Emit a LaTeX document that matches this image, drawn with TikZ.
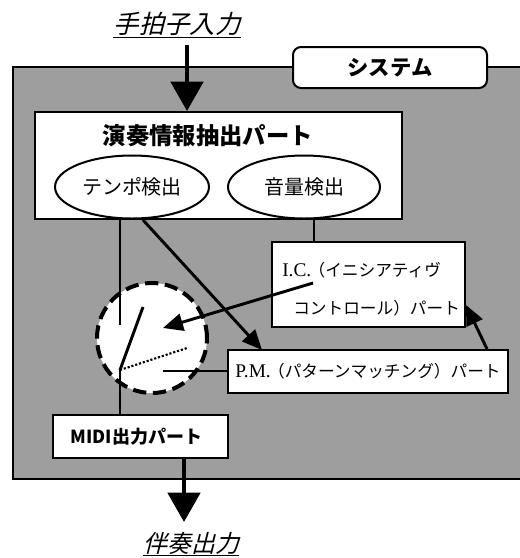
\documentclass[tikz,border=0pt]{standalone}
\usepackage{fontspec}
\setmainfont{Liberation Serif}
\newfontfamily\jp{Noto Sans CJK JP}
\newfontfamily\jpsl[FakeSlant=0.25]{Noto Sans CJK JP}
\usetikzlibrary{arrows.meta,shapes.geometric}
\begin{document}
\begin{tikzpicture}[x=0.75pt,y=-0.75pt,
  box/.style={draw,fill=white,line width=1.5pt,inner sep=0pt},
  oval/.style={draw,ellipse,fill=white,line width=1.5pt,inner sep=0pt},
  txt/.style={inner sep=0pt},
  conn/.style={line width=1.6pt},
  bigarrow/.style={line width=3.6pt,-{Triangle[width=24pt,length=22pt]}},
  midarrow/.style={line width=2.2pt,-{Triangle[width=13pt,length=15pt]}},
  uline/.style={line width=1.2pt}
]
\useasboundingbox (0,0) rectangle (519,558);
% system container
\node[draw,fill=black!38,line width=1.2pt,minimum width=387.75pt,minimum height=309pt,inner sep=0pt] (sys) at (271.5,273) {};
\node[box,rounded corners=6pt,minimum width=145.5pt,minimum height=30.75pt] (syslab) at (390,67.5) {\jp\bfseries\fontsize{16pt}{16pt}\selectfont システム};
% labels
\node[txt] (inlab) at (177,24) {\jpsl\fontsize{19pt}{19pt}\selectfont 手拍子入力};
\draw[uline] ([yshift=-1pt]inlab.south west) -- ([yshift=-1pt]inlab.south east);
\node[txt] (outlab) at (191,543) {\jpsl\fontsize{18pt}{18pt}\selectfont 伴奏出力};
\draw[uline] ([yshift=-1pt]outlab.south west) -- ([yshift=-1pt]outlab.south east);
% extraction part
\node[box,minimum width=275.25pt,minimum height=80.25pt] (ext) at (218.5,165.5) {};
\node[txt] (exttitle) at (208,136) {\jp\bfseries\fontsize{17.5pt}{17.5pt}\selectfont 演奏情報抽出パート};
\node[oval,minimum width=115.5pt,minimum height=47.25pt] (tempo) at (132,187) {\jp\fontsize{15pt}{15pt}\selectfont テンポ検出};
\node[oval,minimum width=114pt,minimum height=47.25pt] (vol) at (304,187) {\jp\fontsize{15pt}{15pt}\selectfont 音量検出};
% I.C. part
\node[box,minimum width=144.75pt,minimum height=63.75pt] (ic) at (368.5,284.5) {};
\node[txt,anchor=west] (ic1) at (282,270) {\fontsize{14.5pt}{14.5pt}\selectfont I.C.\kern-2pt\jp\fontsize{12.5pt}{12.5pt}\selectfont（イニシアティヴ};
\node[txt,anchor=west] (ic2) at (293,308) {\jp\fontsize{12.5pt}{12.5pt}\selectfont コントロール）パート};
% P.M. part
\node[box,minimum width=210pt,minimum height=32.25pt] (pm) at (368,371.5) {\fontsize{14.5pt}{14.5pt}\selectfont P.M.\kern-2pt\jp\fontsize{12.5pt}{12.5pt}\selectfont（パターンマッチング）パート};
% MIDI part
\node[box,minimum width=131.25pt,minimum height=32.25pt] (midi) at (140.5,436.5) {\jp\bfseries\fontsize{13.5pt}{13.5pt}\selectfont MIDI出力パート\kern6pt};
% switch
\node[circle,draw,fill=white,line width=3pt,dash pattern=on 10pt off 5pt,minimum size=82.5pt,inner sep=0pt] (sw) at (152,338) {};
\coordinate (a1) at (120,325);
\coordinate (piv) at (120,370);
\coordinate (blade) at (143,307);
\coordinate (dotend) at (187,348);
\coordinate (pmin) at (163,371);
\coordinate (vx) at (314,0);
\coordinate (dx) at (143,0);
\coordinate (dtip) at (262,350);
\coordinate (icstart) at (313,283);
\coordinate (ictipsw) at (163,328);
\coordinate (pmx) at (487,0);
\coordinate (ictip) at (466,305);
\coordinate (instart) at (187,45);
\coordinate (ox) at (184,0);
\coordinate (otip) at (184,522);
% connectors
\draw[conn] (ext.south -| a1) -- (a1);
\draw[conn] (piv) -- (midi.north -| piv);
\draw[line width=2.2pt] (piv) -- (blade);
\draw[line width=1.6pt,dash pattern=on 1.6pt off 1.4pt] (piv) -- (dotend);
\draw[conn] (pmin) -- (pm.west |- pmin);
\draw[conn] (ext.south -| vx) -- (ic.north -| vx);
\draw[midarrow] (ext.south -| dx) -- (dtip);
\draw[midarrow] (icstart) -- (ictipsw);
\draw[midarrow] (pm.north -| pmx) -- (ictip);
\draw[bigarrow] (instart) -- (ext.north -| instart);
\draw[bigarrow] (midi.south -| ox) -- (otip);
\end{tikzpicture}
\end{document}
